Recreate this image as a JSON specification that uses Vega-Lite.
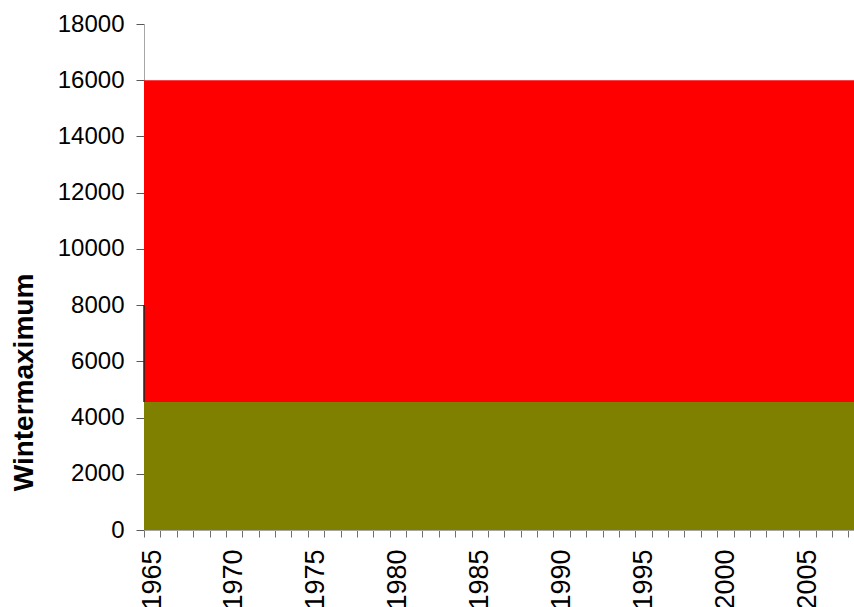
{
  "$schema": "https://vega.github.io/schema/vega-lite/v6.json",
  "width": 710,
  "height": 506,
  "autosize": {"type": "none"},
  "padding": {"left": 144, "top": 24, "right": 0, "bottom": 77},
  "background": "white",
  "config": {
    "view": {"stroke": null},
    "font": "Liberation Sans"
  },
  "datasets": {
    "winter": [
      {"year": 1965, "low": 4550, "high": 16000},
      {"year": 1966, "low": 4550, "high": 16000},
      {"year": 1967, "low": 4550, "high": 16000},
      {"year": 1968, "low": 4550, "high": 16000},
      {"year": 1969, "low": 4550, "high": 16000},
      {"year": 1970, "low": 4550, "high": 16000},
      {"year": 1971, "low": 4550, "high": 16000},
      {"year": 1972, "low": 4550, "high": 16000},
      {"year": 1973, "low": 4550, "high": 16000},
      {"year": 1974, "low": 4550, "high": 16000},
      {"year": 1975, "low": 4550, "high": 16000},
      {"year": 1976, "low": 4550, "high": 16000},
      {"year": 1977, "low": 4550, "high": 16000},
      {"year": 1978, "low": 4550, "high": 16000},
      {"year": 1979, "low": 4550, "high": 16000},
      {"year": 1980, "low": 4550, "high": 16000},
      {"year": 1981, "low": 4550, "high": 16000},
      {"year": 1982, "low": 4550, "high": 16000},
      {"year": 1983, "low": 4550, "high": 16000},
      {"year": 1984, "low": 4550, "high": 16000},
      {"year": 1985, "low": 4550, "high": 16000},
      {"year": 1986, "low": 4550, "high": 16000},
      {"year": 1987, "low": 4550, "high": 16000},
      {"year": 1988, "low": 4550, "high": 16000},
      {"year": 1989, "low": 4550, "high": 16000},
      {"year": 1990, "low": 4550, "high": 16000},
      {"year": 1991, "low": 4550, "high": 16000},
      {"year": 1992, "low": 4550, "high": 16000},
      {"year": 1993, "low": 4550, "high": 16000},
      {"year": 1994, "low": 4550, "high": 16000},
      {"year": 1995, "low": 4550, "high": 16000},
      {"year": 1996, "low": 4550, "high": 16000},
      {"year": 1997, "low": 4550, "high": 16000},
      {"year": 1998, "low": 4550, "high": 16000},
      {"year": 1999, "low": 4550, "high": 16000},
      {"year": 2000, "low": 4550, "high": 16000},
      {"year": 2001, "low": 4550, "high": 16000},
      {"year": 2002, "low": 4550, "high": 16000},
      {"year": 2003, "low": 4550, "high": 16000},
      {"year": 2004, "low": 4550, "high": 16000},
      {"year": 2005, "low": 4550, "high": 16000},
      {"year": 2006, "low": 4550, "high": 16000},
      {"year": 2007, "low": 4550, "high": 16000},
      {"year": 2008, "low": 4550, "high": 16000},
      {"year": 2009, "low": 4550, "high": 16000}
    ],
    "edge": [
      {"year": 1965, "from": 4550, "to": 8000}
    ]
  },
  "layer": [
    {
      "data": {"name": "winter"},
      "mark": {"type": "area", "color": "#808000", "clip": true, "interpolate": "linear"},
      "encoding": {
        "x": {
          "field": "year",
          "type": "quantitative",
          "scale": {"domain": [1965, 2008.35], "nice": false, "zero": false},
          "axis": {
            "title": null,
            "values": [1965, 1966, 1967, 1968, 1969, 1970, 1971, 1972, 1973, 1974, 1975, 1976, 1977, 1978, 1979, 1980, 1981, 1982, 1983, 1984, 1985, 1986, 1987, 1988, 1989, 1990, 1991, 1992, 1993, 1994, 1995, 1996, 1997, 1998, 1999, 2000, 2001, 2002, 2003, 2004, 2005, 2006, 2007, 2008],
            "tickCount": 200,
            "format": "d",
            "labelExpr": "datum.value % 5 === 0 ? datum.label : ''",
            "labelAngle": 270,
            "labelFontSize": 27,
            "labelColor": "black",
            "labelPadding": 12,
            "labelOffset": 8,
            "labelOverlap": false,
            "labelBound": false,
            "labelFlush": false,
            "grid": false,
            "tickSize": 7,
            "tickColor": "#707070",
            "domainColor": "#a6a6a6"
          }
        },
        "y": {
          "field": "low",
          "type": "quantitative",
          "scale": {"domain": [0, 18000], "nice": false},
          "axis": {
            "title": "Wintermaximum",
            "titleFontSize": 28,
            "titleFontWeight": "bold",
            "titleColor": "black",
            "titleAngle": 270,
            "titleAlign": "center",
            "titleBaseline": "alphabetic",
            "titleX": -112,
            "titleY": 358,
            "values": [0, 2000, 4000, 6000, 8000, 10000, 12000, 14000, 16000, 18000],
            "format": "d",
            "labelFontSize": 24,
            "labelColor": "black",
            "labelPadding": 12,
            "grid": false,
            "tickSize": 8,
            "tickColor": "#595959",
            "domainColor": "#a6a6a6"
          }
        }
      }
    },
    {
      "data": {"name": "winter"},
      "mark": {"type": "area", "color": "#ff0000", "clip": true},
      "encoding": {
        "x": {"field": "year", "type": "quantitative"},
        "y": {"field": "high", "type": "quantitative"},
        "y2": {"field": "low"}
      }
    },
    {
      "data": {"name": "edge"},
      "mark": {"type": "rule", "color": "#202020", "strokeWidth": 1.5},
      "encoding": {
        "x": {"field": "year", "type": "quantitative"},
        "y": {"field": "from", "type": "quantitative"},
        "y2": {"field": "to"}
      }
    }
  ]
}
